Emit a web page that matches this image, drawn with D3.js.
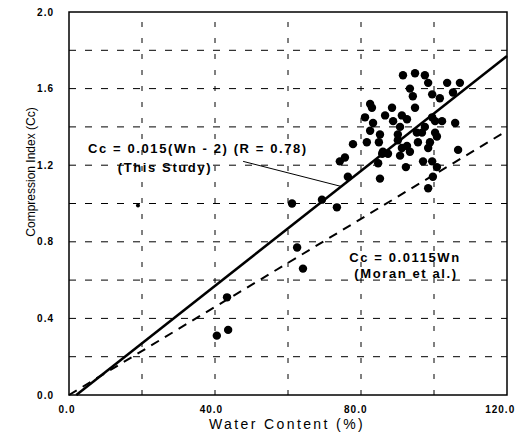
<!DOCTYPE html>
<html>
<head>
<meta charset="utf-8">
<script src="https://cdn.jsdelivr.net/npm/d3@7"></script>
<style>
  body { margin: 0; background: #fff; }
  text { font-family: "Liberation Sans", Arial, sans-serif; fill: #000; }
</style>
</head>
<body>
<svg id="chart" width="531" height="435"></svg>
<script>
// measured points: water content (%) and compression index
const waterContent = [91.5, 94.8, 97.5, 98.4, 103.6, 107.1, 105.2, 93.4, 94.2, 99.5,
    101.6, 82.5, 83.0, 88.5, 81.1, 86.6, 91.2, 88.8, 92.6, 83.3,
    82.5, 85.2, 90.7, 90.1, 95.3, 94.8, 99.5, 100.3, 102.2, 105.8,
    97.5, 100.3, 96.7, 77.8, 81.6, 84.9, 90.1, 93.4, 91.2, 85.8,
    87.4, 74.2, 75.6, 84.7, 92.3, 76.4, 85.2, 100.8, 98.4, 106.6,
    97.0, 99.5, 100.8, 99.7, 98.4, 69.3, 73.4, 61.1, 62.5, 64.1,
    43.3, 40.5, 43.6, 98.9, 95.6, 92.6, 90.7, 86.0];
const compressionIndex = [1.67, 1.68, 1.67, 1.63, 1.63, 1.63, 1.58, 1.60, 1.56, 1.57,
    1.55, 1.52, 1.50, 1.50, 1.45, 1.46, 1.46, 1.43, 1.44, 1.42,
    1.38, 1.36, 1.40, 1.36, 1.37, 1.50, 1.45, 1.43, 1.43, 1.42,
    1.40, 1.37, 1.37, 1.31, 1.32, 1.32, 1.33, 1.27, 1.29, 1.26,
    1.26, 1.22, 1.24, 1.21, 1.19, 1.14, 1.13, 1.35, 1.29, 1.28,
    1.22, 1.22, 1.19, 1.14, 1.08, 1.02, 0.98, 1.00, 0.77, 0.66,
    0.51, 0.31, 0.34, 1.32, 1.32, 1.30, 1.25, 1.27];

// the faint small dot
const strayWn = [18.9];
const strayCc = [0.99];

const xTicks = [0, 40, 80, 120];
const yTicks = [0, 0.4, 0.8, 1.2, 1.6, 2.0];
const xGrid = [20, 40, 60, 80, 100];
const yGrid = [0.2, 0.4, 0.6, 0.8, 1.0, 1.2, 1.4, 1.6, 1.8];

// Cc = 0.015(Wn - 2) and Cc = 0.0115 Wn
const thisStudy = { slope: 0.015, offset: 2 };
const moran = { slope: 0.0115 };

const svg = d3.select("#chart");
const margin = { top: 12, right: 24, bottom: 40, left: 69 };
const width = +svg.attr("width");
const height = +svg.attr("height");

const x = d3.scaleLinear().domain([0, 120]).range([margin.left, width - margin.right]);
const y = d3.scaleLinear().domain([0, 2]).range([height - margin.bottom, margin.top]);

// grid
svg.append("g").selectAll("line")
    .data(yGrid)
    .enter().append("line")
    .attr("x1", x(0)).attr("x2", x(120))
    .attr("y1", d => y(d)).attr("y2", d => y(d))
    .attr("stroke", "#000")
    .attr("stroke-width", 1)
    .attr("stroke-dasharray", "7,9");

svg.append("g").selectAll("line")
    .data(xGrid)
    .enter().append("line")
    .attr("x1", d => x(d)).attr("x2", d => x(d))
    .attr("y1", y(0)).attr("y2", y(2))
    .attr("stroke", "#000")
    .attr("stroke-width", 1)
    .attr("stroke-dasharray", "5,11");

// frame
svg.append("rect")
    .attr("x", x(0)).attr("y", y(2))
    .attr("width", x(120) - x(0))
    .attr("height", y(0) - y(2))
    .attr("fill", "none")
    .attr("stroke", "#000")
    .attr("stroke-width", 1.5);

// tick labels
svg.append("g").selectAll("text")
    .data(xTicks)
    .enter().append("text")
    .attr("x", d => x(d) - 2 - d * 0.04)
    .attr("y", 413)
    .attr("text-anchor", "middle")
    .style("font-size", "10px")
    .style("font-weight", "bold")
    .style("letter-spacing", "1px")
    .text(d => d.toFixed(1));

svg.append("g").selectAll("text")
    .data(yTicks)
    .enter().append("text")
    .attr("x", 54)
    .attr("y", d => y(d) + 3.5)
    .attr("text-anchor", "end")
    .style("font-size", "10px")
    .style("font-weight", "bold")
    .style("letter-spacing", "1px")
    .text(d => d.toFixed(1));

// axis titles
svg.append("text")
    .attr("x", 287)
    .attr("y", 429)
    .attr("text-anchor", "middle")
    .style("font-size", "14px")
    .style("letter-spacing", "2.4px")
    .text("Water Content (%)");

svg.append("text")
    .attr("transform", "translate(35," + 172 + ") rotate(-90)")
    .attr("text-anchor", "middle")
    .style("font-size", "12px")
    .text("Compression Index (Cc)");

// regression lines
const line = d3.line().x(d => x(d[0])).y(d => y(d[1]));

svg.append("path")
    .datum([[thisStudy.offset, 0], [120, thisStudy.slope * (120 - thisStudy.offset)]])
    .attr("d", line)
    .attr("fill", "none")
    .attr("stroke", "#000")
    .attr("stroke-width", 2.5);

svg.append("path")
    .datum([[0, 0], [120, moran.slope * 120]])
    .attr("d", line)
    .attr("fill", "none")
    .attr("stroke", "#000")
    .attr("stroke-width", 2)
    .attr("stroke-dasharray", "9,7");

// points
const pts = waterContent.map((w, i) => [w, compressionIndex[i]]);
svg.append("g").selectAll("circle")
    .data(pts)
    .enter().append("circle")
    .attr("cx", d => x(d[0]))
    .attr("cy", d => y(d[1]))
    .attr("r", 4.2)
    .attr("fill", "#000");

svg.append("g").selectAll("circle")
    .data(strayWn.map((w, i) => [w, strayCc[i]]))
    .enter().append("circle")
    .attr("cx", d => x(d[0]))
    .attr("cy", d => y(d[1]))
    .attr("r", 2)
    .attr("fill", "#000");

// leader from label to the fitted line
const leaderWn = 74.6;
svg.append("line")
    .attr("x1", x(47.7)).attr("y1", y(1.22))
    .attr("x2", x(leaderWn)).attr("y2", y(thisStudy.slope * (leaderWn - thisStudy.offset)))
    .attr("stroke", "#000")
    .attr("stroke-width", 1);

// annotations
const ann = svg.append("g")
    .style("font-size", "13px")
    .style("font-weight", "bold")
    .style("letter-spacing", "1.6px");

ann.append("text").attr("x", 88).attr("y", 153).text("Cc = 0.015(Wn - 2) (R = 0.78)");
ann.append("text").attr("x", 165).attr("y", 172).attr("text-anchor", "middle").text("(This Study)");
ann.append("text").attr("x", 405).attr("y", 262).attr("text-anchor", "middle").text("Cc = 0.0115Wn");
ann.append("text").attr("x", 406).attr("y", 278).attr("text-anchor", "middle").text("(Moran et al.)");
</script>
</body>
</html>
